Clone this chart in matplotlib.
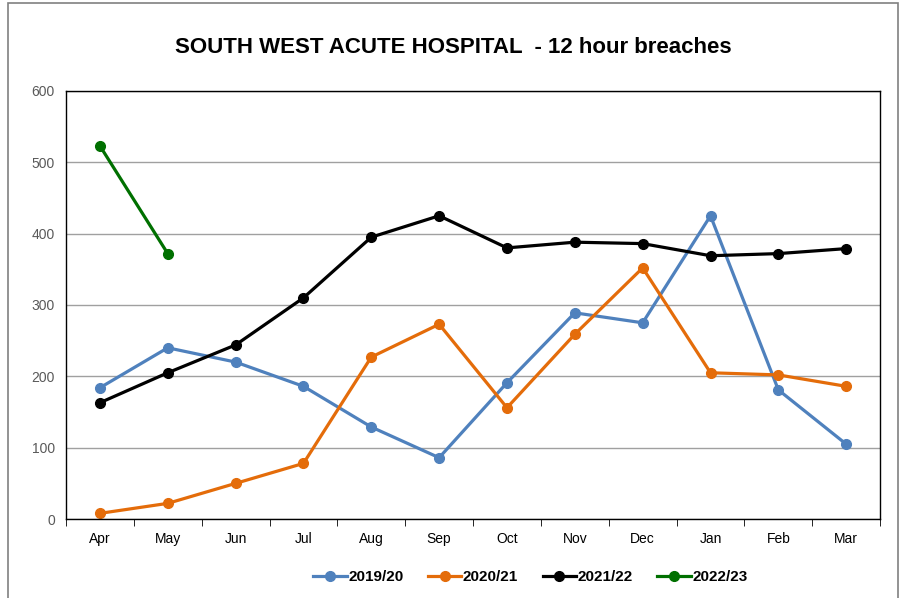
import matplotlib.pyplot as plt
import numpy as np

plt.rcParams['font.family'] = ['Liberation Sans', 'DejaVu Sans']

months = ['Apr', 'May', 'Jun', 'Jul', 'Aug', 'Sep', 'Oct', 'Nov', 'Dec', 'Jan', 'Feb', 'Mar']
y2019 = [184, 240, 220, 186, 129, 86, 191, 289, 275, 425, 181, 105]
y2020 = [8, 22, 50, 78, 227, 273, 156, 259, 352, 205, 202, 186]
y2021 = [163, 205, 244, 310, 395, 425, 380, 388, 386, 369, 372, 379]
y2022 = [523, 372]

series = [('2019/20', y2019, '#4f81bd'),
          ('2020/21', y2020, '#e46c0a'),
          ('2021/22', y2021, '#000000'),
          ('2022/23', y2022, '#007000')]

fig = plt.figure(figsize=(8.99, 5.98), dpi=100)
ax = fig.add_axes([0.0734, 0.132, 0.9056, 0.716])

x = np.arange(len(months))
for name, vals, col in series:
    ax.plot(x[:len(vals)], vals, color=col, lw=2.3, marker='o', ms=7, label=name)

ax.set_xlim(-0.5, 11.5)
ax.set_ylim(0, 600)
ax.set_yticks(range(0, 601, 100))
ax.yaxis.grid(True, color='#a0a0a0', lw=1)
ax.set_axisbelow(True)
ax.set_xticks(x)
ax.set_xticklabels(months)
ax.set_xticks(np.arange(-0.5, 12, 1), minor=True)
ax.tick_params(axis='x', which='major', length=0, pad=9, labelsize=10)
ax.tick_params(axis='x', which='minor', length=5, direction='out')
ax.tick_params(axis='y', length=0, pad=8, labelsize=10, labelcolor='#595959')
for s in ax.spines.values():
    s.set_color('black')
    s.set_linewidth(1)

fig.text(0.504, 0.92, 'SOUTH WEST ACUTE HOSPITAL  - 12 hour breaches',
         ha='center', va='center', fontsize=16, fontweight='bold')

leg = fig.legend(loc='center', bbox_to_anchor=(0.59, 0.035), ncol=4, frameon=False,
                 prop={'weight': 'bold', 'size': 11}, handlelength=2.2,
                 handletextpad=0.1, columnspacing=1.6)

fig.patches.append(plt.Rectangle((0.009, -0.01), 0.99, 1.005, transform=fig.transFigure,
                                 fill=False, edgecolor='#808080', lw=1.2))

fig.savefig('out.png', dpi=100)
